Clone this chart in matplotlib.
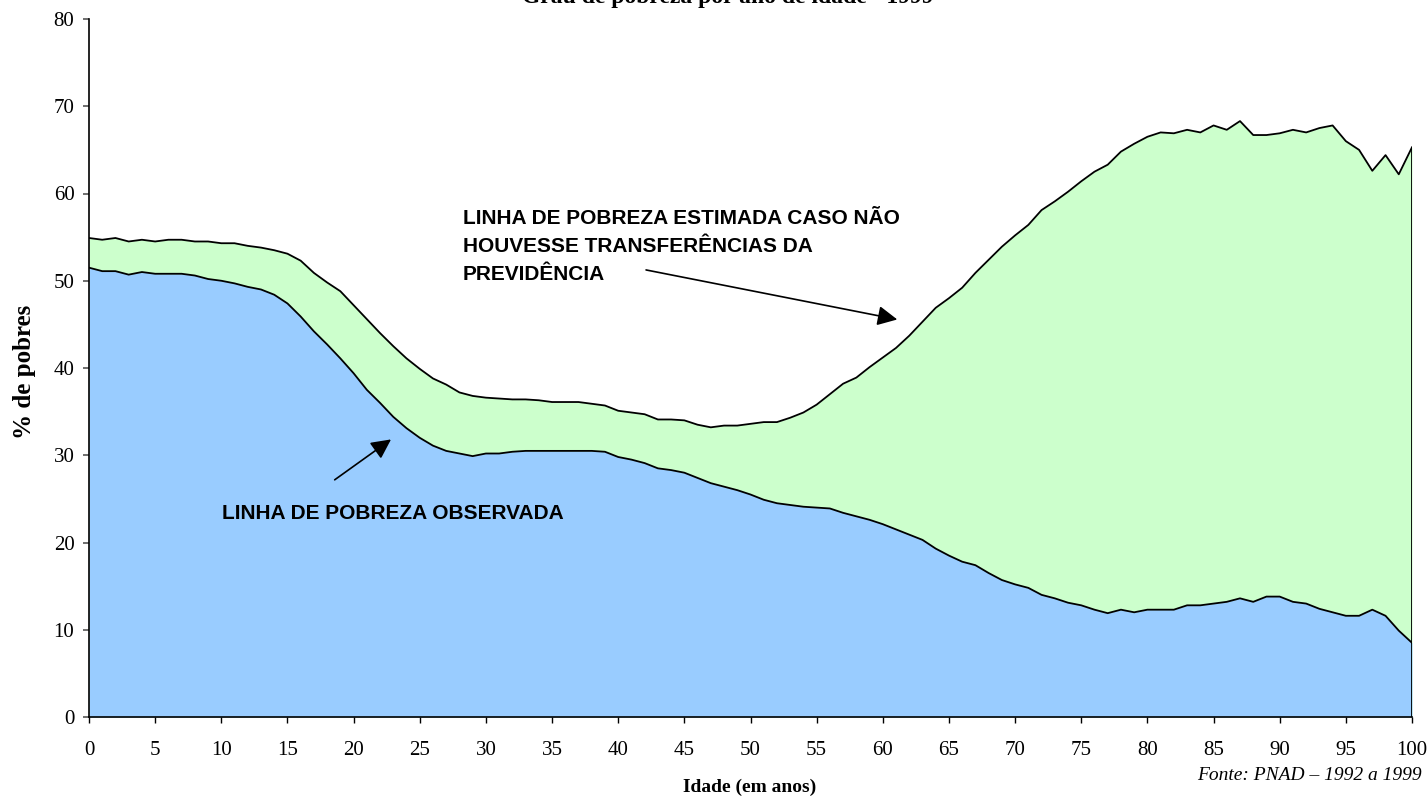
import numpy as np
import matplotlib
matplotlib.use("Agg")
import matplotlib.pyplot as plt

# Idade (anos)
idade = np.arange(0, 101)

# % de pobres caso nao houvesse transferencias da previdencia
sem_previdencia = [
    54.9, 54.7, 54.9, 54.5, 54.7, 54.5, 54.7, 54.7, 54.5, 54.5,
    54.3, 54.3, 54.0, 53.8, 53.5, 53.1, 52.3, 50.9, 49.8, 48.8,
    47.2, 45.6, 44.0, 42.5, 41.1, 39.9, 38.8, 38.1, 37.2, 36.8,
    36.6, 36.5, 36.4, 36.4, 36.3, 36.1, 36.1, 36.1, 35.9, 35.7,
    35.1, 34.9, 34.7, 34.1, 34.1, 34.0, 33.5, 33.2, 33.4, 33.4,
    33.6, 33.8, 33.8, 34.3, 34.9, 35.8, 37.0, 38.2, 38.9, 40.1,
    41.2, 42.3, 43.7, 45.3, 46.9, 48.0, 49.2, 50.9, 52.4, 53.9,
    55.2, 56.4, 58.1, 59.1, 60.2, 61.4, 62.5, 63.3, 64.8, 65.7,
    66.5, 67.0, 66.9, 67.3, 67.0, 67.8, 67.3, 68.3, 66.7, 66.7,
    66.9, 67.3, 67.0, 67.5, 67.8, 66.0, 65.0, 62.6, 64.4, 62.2,
    65.3,
]

# % de pobres observado
observada = [
    51.5, 51.1, 51.1, 50.7, 51.0, 50.8, 50.8, 50.8, 50.6, 50.2,
    50.0, 49.7, 49.3, 49.0, 48.4, 47.4, 45.9, 44.2, 42.7, 41.1,
    39.4, 37.5, 36.0, 34.4, 33.1, 32.0, 31.1, 30.5, 30.2, 29.9,
    30.2, 30.2, 30.4, 30.5, 30.5, 30.5, 30.5, 30.5, 30.5, 30.4,
    29.8, 29.5, 29.1, 28.5, 28.3, 28.0, 27.4, 26.8, 26.4, 26.0,
    25.5, 24.9, 24.5, 24.3, 24.1, 24.0, 23.9, 23.4, 23.0, 22.6,
    22.1, 21.5, 20.9, 20.3, 19.3, 18.5, 17.8, 17.4, 16.5, 15.7,
    15.2, 14.8, 14.0, 13.6, 13.1, 12.8, 12.3, 11.9, 12.3, 12.0,
    12.3, 12.3, 12.3, 12.8, 12.8, 13.0, 13.2, 13.6, 13.2, 13.8,
    13.8, 13.2, 13.0, 12.4, 12.0, 11.6, 11.6, 12.3, 11.6, 9.9,
    8.5,
]

serif = "Liberation Serif"
sans = "Liberation Sans"

fig = plt.figure(figsize=(14.27, 7.99), dpi=100)
ax = fig.add_axes([89 / 1427, 1 - 717 / 799, (1412 - 89) / 1427, (717 - 19) / 799])

# areas
ax.fill_between(idade, 0, sem_previdencia, color="#CCFFCC", linewidth=0)
ax.fill_between(idade, 0, observada, color="#99CCFF", linewidth=0)
ax.plot(idade, sem_previdencia, color="black", linewidth=1.3)
ax.plot(idade, observada, color="black", linewidth=1.3)
ax.vlines(idade[-1], 0, sem_previdencia[-1], color="black", linewidth=1.3)

ax.set_xlim(0, 100)
ax.set_ylim(0, 80)
ax.set_xticks(np.arange(0, 101, 5))
ax.set_yticks(np.arange(0, 81, 10))
ax.spines["top"].set_visible(False)
ax.spines["right"].set_visible(False)
ax.spines["left"].set_linewidth(1.2)
ax.spines["bottom"].set_linewidth(1.2)
ax.tick_params(axis="x", length=4, width=1, pad=13, labelsize=15)
ax.tick_params(axis="y", length=4.5, width=1.2, color="#555555", pad=6, labelsize=15)
for lab in ax.get_xticklabels() + ax.get_yticklabels():
    lab.set_fontfamily(serif)

# titulo (cortado no topo, como no original)
fig.text(728 / 1427, 1 - 3 / 799, "Grau de pobreza por ano de idade - 1999",
         ha="center", va="baseline", fontsize=17, fontweight="bold", family=serif)

fig.text(25 / 1427, 1 - 372 / 799, "% de pobres", rotation=90, ha="center", va="center",
         fontsize=18, fontweight="bold", family=serif)
fig.text(750 / 1427, 1 - 787 / 799, "Idade (em anos)", ha="center", va="center",
         fontsize=14, fontweight="bold", family=serif)
fig.text(1422 / 1427, 1 - 775 / 799, "Fonte: PNAD \u2013 1992 a 1999", ha="right", va="center",
         fontsize=14, style="italic", family=serif)

# anotacoes
ax.text(28.27, 53.9, "LINHA DE POBREZA ESTIMADA CASO NÃO\nHOUVESSE TRANSFERÊNCIAS DA\nPREVIDÊNCIA",
        ha="left", va="center", fontsize=15, fontweight="bold", family=sans, linespacing=1.6)
ax.annotate("", xy=(61.3, 45.5), xytext=(41.9, 51.3),
            arrowprops=dict(arrowstyle="-|>", color="black", lw=1.2, mutation_scale=30))

ax.text(10.05, 23.3, "LINHA DE POBREZA OBSERVADA", ha="left", va="center",
        fontsize=15, fontweight="bold", family=sans)
ax.annotate("", xy=(23.0, 32.0), xytext=(18.4, 27.0),
            arrowprops=dict(arrowstyle="-|>", color="black", lw=1.2, mutation_scale=30))

fig.savefig("out.png", dpi=100)
